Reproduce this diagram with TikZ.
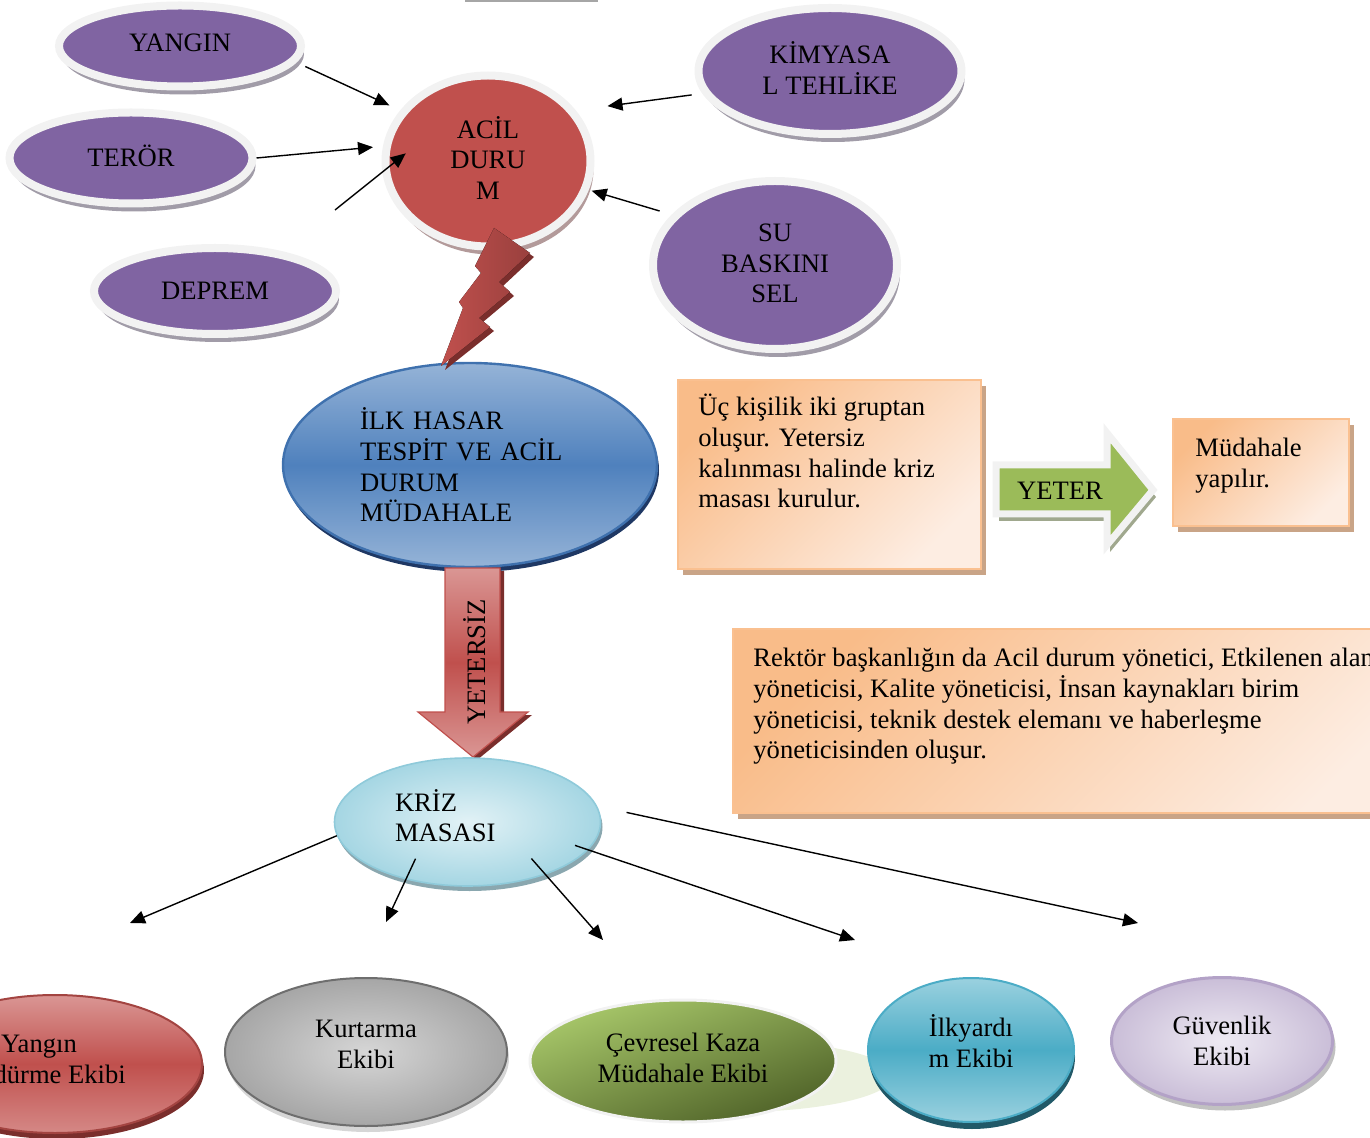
\documentclass[tikz,border=0pt]{standalone}
\usepackage{fontspec}
\setmainfont{Liberation Serif}
\usetikzlibrary{arrows.meta,shapes.geometric,shadows,positioning}

\definecolor{mor}{HTML}{8064A2}
\definecolor{halka}{HTML}{F2F2F2}
\definecolor{morgolge}{HTML}{A19CA8}
\definecolor{kirmizi}{HTML}{C0504D}
\definecolor{kirmizigolge}{HTML}{B39A9A}
\definecolor{koyukirmizi}{HTML}{7A2E2C}
\definecolor{pembe}{HTML}{DA9694}
\definecolor{mavi}{HTML}{4F81BD}
\definecolor{acikmavi}{HTML}{95B3D7}
\definecolor{lacivert}{HTML}{1F3864}
\definecolor{kenarmavi}{HTML}{3F71AE}
\definecolor{buz}{HTML}{E2F2F6}
\definecolor{camgobegi}{HTML}{A5D6E3}
\definecolor{kenarcam}{HTML}{8FCADA}
\definecolor{camgolge}{HTML}{8AA7AF}
\definecolor{turuncu}{HTML}{F9BC89}
\definecolor{krem}{HTML}{FDEDE2}
\definecolor{kenarturuncu}{HTML}{FAC090}
\definecolor{kahve}{HTML}{C9A487}
\definecolor{yesil}{HTML}{9BBB59}
\definecolor{yesilgolge}{HTML}{A0A88E}
\definecolor{zeytin}{HTML}{4F6228}
\definecolor{acikyesil}{HTML}{A8C86A}
\definecolor{soluk}{HTML}{EBF1DE}
\definecolor{turkuaz}{HTML}{4BACC6}
\definecolor{acikturkuaz}{HTML}{9AD1DF}
\definecolor{petrol}{HTML}{215968}
\definecolor{lila}{HTML}{B3A2C7}
\definecolor{aciklila}{HTML}{EEEAF3}
\definecolor{gri}{HTML}{A6A6A6}
\definecolor{acikgri}{HTML}{D6D6D6}
\definecolor{koyugri}{HTML}{6E6E6E}

\newcommand{\altbosluk}[1]{\rule[-#1]{0pt}{#1}}

\tikzset{
  yazi/.style={font=\fontsize{13.3}{15.3}\selectfont, align=center, inner sep=0pt},
  balon/.style={ellipse, yazi, draw=halka, line width=4pt,
    drop shadow={shadow xshift=1.5pt, shadow yshift=-4pt, fill=#1, opacity=1}},
  tehlike/.style={balon=morgolge, fill=mor},
  ok/.style={-{Triangle[length=7.5pt,width=6.5pt]}, line width=0.7pt, black},
  kutu/.style={rectangle, draw=kenarturuncu, line width=1pt, top color=turuncu, bottom color=krem,
    shading angle=45, drop shadow={shadow xshift=2.5pt, shadow yshift=-3pt, fill=kahve, opacity=1}},
  ekip/.style={ellipse, yazi, line width=1pt}
}

\begin{document}
\begin{tikzpicture}[x=0.5pt, y=-0.5pt]
\useasboundingbox (0,0) rectangle (1370,1138);
\clip (0,0) rectangle (1370,1138);

\draw[gri, line width=1pt] (465,1) -- (598,1);

\node[tehlike, minimum width=121pt, minimum height=40.5pt] (yangin) at (180,46) {YANGIN\altbosluk{3pt}};
\node[tehlike, minimum width=121.5pt, minimum height=45.5pt] (teror) at (131,158) {TERÖR\altbosluk{2pt}};
\node[tehlike, minimum width=121pt, minimum height=43pt] (deprem) at (215,291) {DEPREM};
\node[tehlike, minimum width=131.5pt, minimum height=63pt] (kimya) at (830,71) {KİMYASA\\L TEHLİKE\altbosluk{3pt}};
\node[tehlike, minimum width=122pt, minimum height=84pt] (su) at (775,265) {SU\\BASKINI\\SEL\altbosluk{1.5pt}};
\node[balon=kirmizigolge, fill=kirmizi, minimum width=102.5pt, minimum height=85.5pt] (acil) at (488,161) {ACİL\\DURU\\M\altbosluk{3pt}};

\draw[ok, shorten <=5pt, shorten >=6pt] (yangin.-8) -- (acil.150);
\draw[ok, shorten >=5pt] (teror.0) -- (acil.172);
\coordinate (serbest) at (335,210);
\draw[ok, shorten >=-15pt] (serbest) -- (acil.186);
\draw[ok, shorten <=5.4pt, shorten >=16pt] (kimya.190) -- (acil.30);
\draw[ok, shorten <=6.3pt, shorten >=1.5pt] (su.154) -- (acil.-16);

\node[ellipse, yazi, align=left, text width=110pt, minimum width=187pt, minimum height=102pt,
  top color=acikmavi, bottom color=acikmavi, middle color=mavi, draw=kenarmavi, line width=1.2pt,
  drop shadow={shadow xshift=1pt, shadow yshift=-2.5pt, fill=lacivert, opacity=1}]
  (ilk) at (470,465) {İLK HASAR\\TESPİT VE ACİL\\DURUM\\MÜDAHALE};

\fill[left color=kirmizi, right color=kirmizi!80!black,
  drop shadow={shadow xshift=2pt, shadow yshift=-2pt, fill=koyukirmizi, opacity=1}]
  (494,228) -- (530,253) -- (499,282) -- (510,292) -- (479,318) -- (490,327) -- (441,366)
  -- (463,308) -- (459,302) -- (481,273) -- (475,266) -- cycle;

\shadedraw[top color=pembe, bottom color=pembe, middle color=kirmizi, draw=kirmizi, line width=0.6pt,
  drop shadow={shadow xshift=2pt, shadow yshift=-1.5pt, fill=koyukirmizi, opacity=1}]
  (445,568) -- (500,568) -- (500,712) -- (528,712) -- (473,757) -- (418,712) -- (445,712) -- cycle;
\node[yazi, rotate=90] (yetersiz) at (475,662) {YETERSİZ};

\node[ellipse, yazi, align=left, text width=72.5pt, minimum width=133pt, minimum height=64pt,
  inner color=buz, outer color=camgobegi, draw=kenarcam, line width=0.8pt,
  drop shadow={shadow xshift=1pt, shadow yshift=-2.5pt, fill=camgolge, opacity=1}]
  (kriz) at (467.5,822) {KRİZ\\MASASI\altbosluk{6.5pt}};

\node[kutu, minimum width=151.5pt, minimum height=94.5pt, anchor=north west] (kutu1) at (677,379) {};
\node[yazi, align=left, below right=7.5pt and 10.5pt of kutu1.north west] (kutu1yazi)
  {Üç kişilik iki gruptan\\oluşur. Yetersiz\\kalınması halinde kriz\\masası kurulur.};

\filldraw[fill=yesil, draw=halka, line width=3.5pt, line join=miter,
  drop shadow={shadow xshift=1.5pt, shadow yshift=-3.5pt, fill=yesilgolge, opacity=1}]
  (996,465) -- (1107,465) -- (1107,433) -- (1153,490) -- (1107,545) -- (1107,514) -- (996,514) -- cycle;
\node[yazi] (yeter) at (1060,491) {YETER};

\node[kutu, minimum width=88pt, minimum height=53.5pt, anchor=north west] (kutu2) at (1172,418) {};
\node[yazi, align=left, below right=10pt and 11.5pt of kutu2.north west] (kutu2yazi) {Müdahale\\yapılır.};

\node[kutu, minimum width=350pt, minimum height=92pt, anchor=north west] (kutu3) at (732,628) {};
\node[yazi, align=left, below right=10pt and 10.5pt of kutu3.north west] (kutu3yazi)
  {Rektör başkanlığın da Acil durum yönetici, Etkilenen alan\\yöneticisi, Kalite yöneticisi, İnsan kaynakları birim\\yöneticisi, teknik destek elemanı ve haberleşme\\yöneticisinden oluşur.};

\coordinate (ok1) at (130,923);
\coordinate (ok2) at (386,922);
\coordinate (ok3) at (603,940);
\coordinate (ok4) at (855,940);
\coordinate (ok5) at (1138,923);
\draw[ok] (kriz.186) -- (ok1);
\draw[ok, shorten <=-11.5pt] (kriz.223) -- (ok2);
\draw[ok, shorten <=-10.7pt] (kriz.-34.5) -- (ok3);
\draw[ok, shorten <=-7pt] (kriz.-13) -- (ok4);
\draw[ok, shorten <=15pt] (kriz.7) -- (ok5);

\fill[soluk] (735,1076) ellipse [x radius=79pt, y radius=18pt];

\node[ekip, minimum width=147pt, minimum height=69pt, top color=pembe, bottom color=pembe!80!kirmizi,
  middle color=kirmizi, draw=kirmizi!85!black,
  drop shadow={shadow xshift=1pt, shadow yshift=-3pt, fill=koyukirmizi, opacity=1}]
  (sondurme) at (55,1064) {Yangın\rule{16pt}{0pt}\\Söndürme Ekibi\rule{16pt}{0pt}\altbosluk{5pt}};
\node[ekip, minimum width=141pt, minimum height=74pt, inner color=acikgri, outer color=gri, draw=koyugri,
  drop shadow={shadow xshift=1pt, shadow yshift=-3pt, fill=acikgri, opacity=1}]
  (kurtarma) at (366,1052) {Kurtarma\\Ekibi\altbosluk{8pt}};
\node[ekip, minimum width=153pt, minimum height=61pt, top color=acikyesil, bottom color=zeytin,
  shading angle=20, draw=halka, line width=1.5pt]
  (cevre) at (683,1061) {Çevresel Kaza\\Müdahale Ekibi\altbosluk{3pt}};
\node[ekip, minimum width=103pt, minimum height=72pt, top color=acikturkuaz, bottom color=acikturkuaz,
  middle color=turkuaz, draw=turkuaz,
  drop shadow={shadow xshift=0.5pt, shadow yshift=-3.5pt, fill=petrol, opacity=1}]
  (ilkyardim) at (971,1050) {İlkyardı\\m Ekibi\altbosluk{9pt}};
\node[ekip, minimum width=110.5pt, minimum height=63.5pt, inner color=aciklila, outer color=lila!70!white,
  draw=lila, line width=1.5pt,
  drop shadow={shadow xshift=1.5pt, shadow yshift=-3pt, fill=gri!70!white, opacity=1}]
  (guvenlik) at (1222,1041) {Güvenlik\\Ekibi};

\end{tikzpicture}
\end{document}
